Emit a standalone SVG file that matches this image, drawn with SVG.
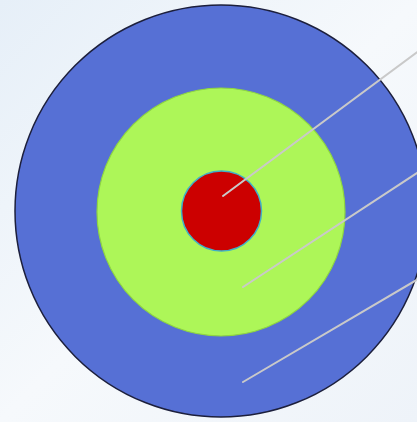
<svg xmlns="http://www.w3.org/2000/svg" width="417" height="422" viewBox="0 0 417 422">
<defs>
<linearGradient id="bg" x1="0" y1="0" x2="1" y2="1">
<stop offset="0" stop-color="#e6eff8"/>
<stop offset="0.5" stop-color="#f6f9fc"/>
<stop offset="1" stop-color="#eef3f9"/>
</linearGradient>
<style>
.lead{stroke:#c9c9c9;stroke-width:2;fill:none;stroke-linecap:round}
</style>
</defs>
<rect width="417" height="422" fill="url(#bg)"/>
<g id="outer">
<circle cx="221" cy="211" r="206" fill="#5670d5" stroke="#1c1f3c" stroke-width="1.5"/>
</g>
<g id="middle">
<circle cx="221" cy="212" r="124" fill="#adf658" stroke="#8fd640" stroke-width="1.2"/>
</g>
<g id="inner">
<circle cx="221.5" cy="211" r="40" fill="#cc0000" stroke="#3fb0c8" stroke-width="1.5"/>
</g>
<g id="connectors">
<line class="lead" x1="223" y1="196" x2="420" y2="50"/>
<line class="lead" x1="243" y1="287" x2="420" y2="171"/>
<line class="lead" x1="243" y1="382" x2="420" y2="278"/>
</g>
</svg>
